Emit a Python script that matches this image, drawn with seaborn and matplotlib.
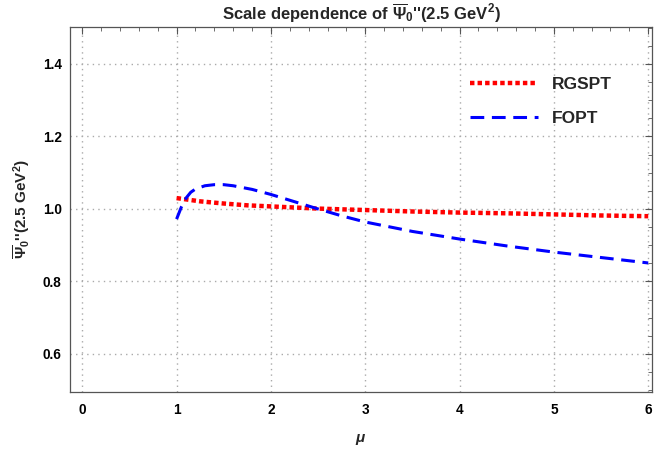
import numpy as np
import pandas as pd
import matplotlib
matplotlib.use("Agg")
import matplotlib.pyplot as plt
from matplotlib.ticker import MultipleLocator
import seaborn as sns

# Data
mu_rg = [1.0, 1.25, 1.5, 1.75, 2.0, 2.5, 3.0, 3.5, 4.0, 4.5, 5.0, 5.5, 6.0]
rgspt = [1.030, 1.021, 1.015, 1.010, 1.007, 1.001, 0.997, 0.993, 0.990, 0.988, 0.985, 0.982, 0.980]

mu_fo = [1.0, 1.05, 1.1, 1.15, 1.2, 1.3, 1.4, 1.5, 1.6, 1.8, 2.0, 2.25, 2.5, 2.75, 3.0, 3.5, 4.0, 4.5, 5.0, 5.5, 6.0]
fopt = [0.972, 1.005, 1.030, 1.046, 1.055, 1.064, 1.067, 1.067, 1.064, 1.054, 1.040, 1.020, 1.000, 0.981, 0.964, 0.938, 0.917, 0.898, 0.881, 0.866, 0.851]

series_names = ["RGSPT", "FOPT"]
x_ticks = [0, 1, 2, 3, 4, 5, 6]
y_ticks = [0.6, 0.8, 1.0, 1.2, 1.4]

df = pd.concat([
    pd.DataFrame({"mu": mu_rg, "val": rgspt, "series": series_names[0]}),
    pd.DataFrame({"mu": mu_fo, "val": fopt, "series": series_names[1]}),
])

sns.set_theme(style="white")
plt.rcParams["font.family"] = ["Liberation Sans", "DejaVu Sans"]
plt.rcParams["font.weight"] = "bold"
plt.rcParams["mathtext.fontset"] = "custom"
plt.rcParams["mathtext.rm"] = "Liberation Sans:bold"
plt.rcParams["mathtext.it"] = "Liberation Sans:bold:italic"
plt.rcParams["mathtext.bf"] = "Liberation Sans:bold"

fig = plt.figure(figsize=(6.58, 4.53), dpi=100)
ax = fig.add_axes([70/658, 1 - 392/453, (652-70)/658, (392-27)/453])

sns.lineplot(data=df[df.series == "RGSPT"], x="mu", y="val", ax=ax, color="#ff0000",
             lw=3.2, label="RGSPT", sort=True)
sns.lineplot(data=df[df.series == "FOPT"], x="mu", y="val", ax=ax, color="#0000ff",
             lw=2.2, label="FOPT", sort=True)
lines = ax.get_lines()
lines[0].set_dashes([1.0, 0.7])
lines[1].set_dashes([4.5, 2.5])

ax.set_xlim(-0.13, 6.04)
ax.set_ylim(0.495, 1.502)
ax.set_xticks(x_ticks)
ax.set_yticks(y_ticks)
ax.set_yticklabels([f"{v:.1f}" for v in y_ticks])
ax.xaxis.set_minor_locator(MultipleLocator(0.2))
ax.yaxis.set_minor_locator(MultipleLocator(0.05))
ax.tick_params(which="both", direction="in", top=True, right=True, labelsize=9.8,
               colors="#555555", labelcolor="black")
ax.tick_params(which="major", length=5, width=0.8)
ax.tick_params(which="minor", length=3, width=0.6)
for lab in ax.get_xticklabels() + ax.get_yticklabels():
    lab.set_fontweight("bold")
ax.tick_params(axis="x", pad=8)
ax.tick_params(axis="y", pad=6)
for s in ax.spines.values():
    s.set_visible(True)
    s.set_color("#555555")
    s.set_linewidth(0.9)
ax.grid(True, which="major", color="#aaaaaa", linestyle=(0, (1, 3)), lw=1.0)

ax.set_title(r"Scale dependence of $\overline{\Psi}_0$''(2.5 GeV$^2$)", fontsize=12,
             fontweight="bold", pad=5)
ax.set_xlabel(r"$\mu$", fontsize=11, labelpad=11)
ax.set_ylabel(r"$\overline{\Psi}_0$''(2.5 GeV$^2$)", fontsize=11, fontweight="bold", labelpad=8)

leg = ax.legend(loc="upper left", bbox_to_anchor=(0.675, 0.883), frameon=False,
                handlelength=3.95, fontsize=12.5, labelspacing=1.12, handletextpad=0.75,
                borderaxespad=0)
for t in leg.get_texts():
    t.set_fontweight("bold")

fig.savefig("out.png", dpi=100)
